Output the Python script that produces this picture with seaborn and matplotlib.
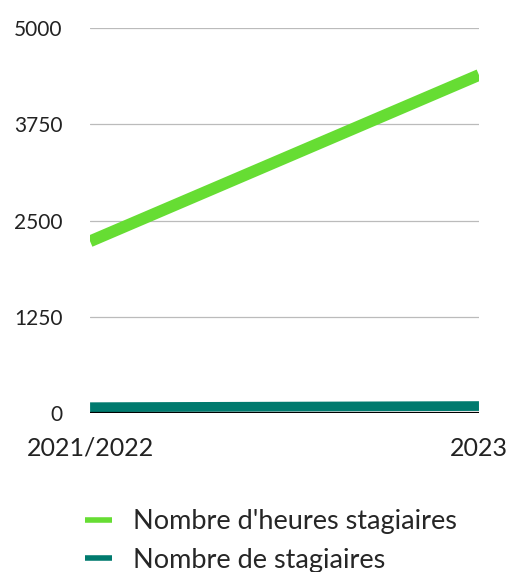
import matplotlib
matplotlib.use('Agg')
import matplotlib.pyplot as plt
import seaborn as sns
import pandas as pd

# data
periods = ['2021/2022', '2023']
heures = [2230, 4390]
stagiaires = [75, 90]
yticks = [0, 1250, 2500, 3750, 5000]

df = pd.DataFrame({'x': [0, 1], 'heures': heures, 'stagiaires': stagiaires})

sns.set_style('white')
plt.rcParams['font.family'] = ['Lato', 'DejaVu Sans']

fig = plt.figure(figsize=(5.09, 5.72), dpi=100)
ax = fig.add_axes([0.177, 0.278, 0.764, 0.673])

green = '#66dd33'
teal = '#007a6e'

sns.lineplot(data=df, x='x', y='heures', ax=ax, color=green, linewidth=8.5,
             label="Nombre d'heures stagiaires", solid_capstyle='butt')
sns.lineplot(data=df, x='x', y='stagiaires', ax=ax, color=teal, linewidth=7,
             label='Nombre de stagiaires', solid_capstyle='butt')

ax.set_xlim(0, 1)
ax.set_ylim(0, 5000)
ax.set_yticks(yticks)
ax.set_yticklabels([str(v) for v in yticks])
ax.set_xticks([0, 1])
ax.set_xticklabels(periods)
ax.set_xlabel('')
ax.set_ylabel('')

for v in yticks[1:]:
    ax.axhline(v, color='#bbbbbb', linewidth=0.9, zorder=0)
ax.axhline(0, color='black', linewidth=1.6, zorder=3)

for s in ax.spines.values():
    s.set_visible(False)

ax.tick_params(axis='y', length=0, pad=20, labelsize=15, labelcolor='#222222')
ax.tick_params(axis='x', length=0, pad=17, labelsize=18, labelcolor='#222222')

leg = ax.legend(loc='upper left', bbox_to_anchor=(-0.013, -0.25), frameon=False,
                fontsize=19.5, handlelength=1.0, handletextpad=0.78, labelspacing=0.5,
                borderpad=0, borderaxespad=0)
for ln in leg.get_lines():
    ln.set_linewidth(4)

fig.savefig('out.png', dpi=100)
